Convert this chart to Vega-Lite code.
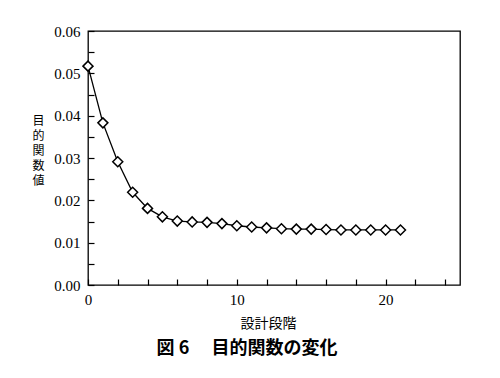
{
  "$schema": "https://vega.github.io/schema/vega-lite/v6.json",
  "width": 372,
  "height": 254,
  "autosize": "none",
  "padding": {"left": 88, "top": 31, "right": 40, "bottom": 93},
  "background": "white",
  "title": {"text": "図 6　 目的関数の変化", "orient": "bottom", "anchor": "middle", "font": "Noto Sans CJK JP", "fontSize": 18, "fontWeight": "bold", "offset": 10, "dx": -27, "color": "black"},
  "config": {
    "view": {"stroke": "black", "strokeWidth": 1.3},
    "axis": {"grid": false, "domain": false, "labelFont": "Liberation Serif", "labelFontSize": 15, "labelColor": "black", "tickColor": "black", "tickSize": -6, "tickWidth": 1.2}
  },
  "data": {"values": [
    {"step": 0, "f": 0.0517},
    {"step": 1, "f": 0.0383},
    {"step": 2, "f": 0.0291},
    {"step": 3, "f": 0.0219},
    {"step": 4, "f": 0.0181},
    {"step": 5, "f": 0.0161},
    {"step": 6, "f": 0.0151},
    {"step": 7, "f": 0.0149},
    {"step": 8, "f": 0.0148},
    {"step": 9, "f": 0.0145},
    {"step": 10, "f": 0.0140},
    {"step": 11, "f": 0.0137},
    {"step": 12, "f": 0.0135},
    {"step": 13, "f": 0.0133},
    {"step": 14, "f": 0.0132},
    {"step": 15, "f": 0.0132},
    {"step": 16, "f": 0.0131},
    {"step": 17, "f": 0.0130},
    {"step": 18, "f": 0.0130},
    {"step": 19, "f": 0.0130},
    {"step": 20, "f": 0.0130},
    {"step": 21, "f": 0.0130}
  ]},
  "encoding": {
    "x": {"field": "step", "type": "quantitative", "scale": {"domain": [0, 25], "nice": false, "zero": false},
      "axis": {"values": [0,2,4,6,8,10,12,14,16,18,20,22,24], "labelExpr": "datum.value % 10 === 0 ? datum.label : ''", "labelPadding": 13, "labelFlush": false,
        "title": "設計段階", "titleFont": "Noto Sans CJK JP", "titleFontSize": 14, "titleFontWeight": "normal", "titleColor": "black", "titlePadding": 9, "titleX": 180}},
    "y": {"field": "f", "type": "quantitative", "scale": {"domain": [0, 0.06], "nice": false},
      "axis": {"values": [0,0.005,0.01,0.015,0.02,0.025,0.03,0.035,0.04,0.045,0.05,0.055,0.06], "labelExpr": "(round(datum.value*1000) % 10 === 0) ? format(datum.value, '.2f') : ''", "labelPadding": 14,
        "title": ["目","的","関","数","値"], "titleAngle": 0, "titleFont": "Noto Sans CJK JP", "titleFontSize": 12, "titleFontWeight": "normal", "titleColor": "black", "titleLineHeight": 15, "titleAlign": "center", "titleBaseline": "top", "titleX": -50, "titleY": 84}}
  },
  "layer": [
    {"mark": {"type": "line", "color": "black", "strokeWidth": 1.3}},
    {"mark": {"type": "point", "shape": "diamond", "filled": true, "fill": "white", "stroke": "black", "strokeWidth": 1.5, "size": 100, "opacity": 1}}
  ]
}
